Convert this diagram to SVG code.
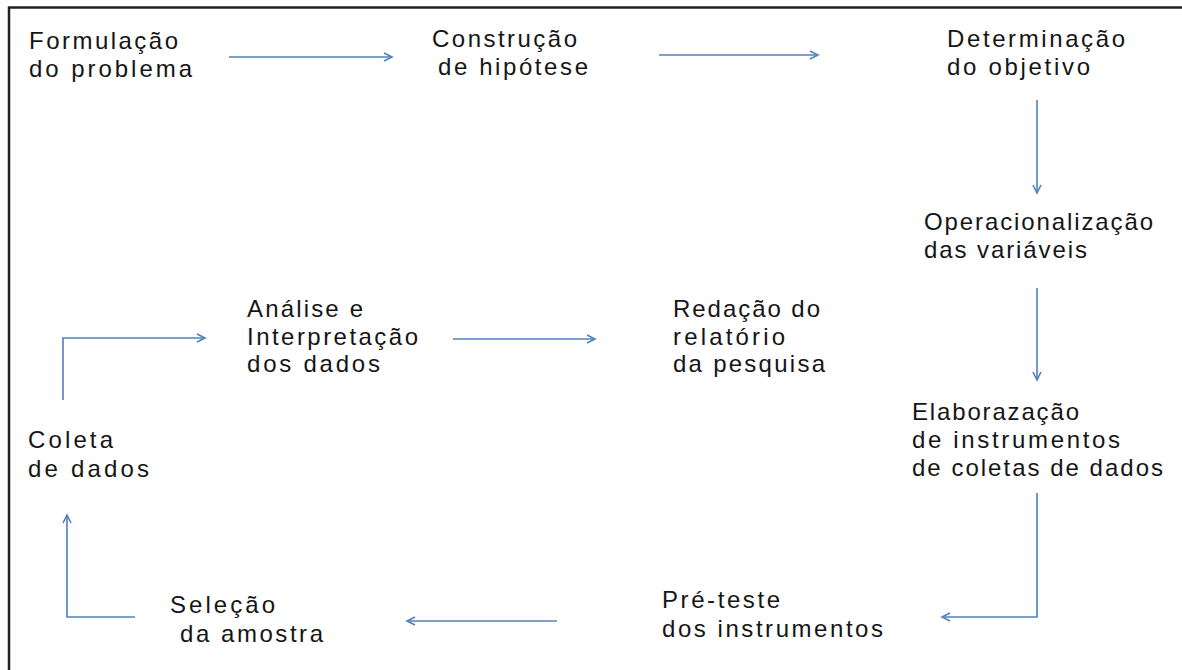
<svg xmlns="http://www.w3.org/2000/svg" width="1182" height="670" viewBox="0 0 1182 670">
<style>
text{font-family:"Liberation Sans",Arial,sans-serif;font-size:24px;fill:#151515}
.c{fill:none;stroke:#4f81bd;stroke-width:1.6}
.b{fill:none;stroke:#222;stroke-width:2.5}
</style>
<defs>
<marker id="ah" markerWidth="12" markerHeight="12" refX="9" refY="5" orient="auto" markerUnits="userSpaceOnUse">
<path d="M1,1 L9,5 L1,9" fill="none" stroke="#4f81bd" stroke-width="1.6"/>
</marker>
</defs>
<rect width="1182" height="670" fill="#fff"/>
<path class="b" d="M9,670 V7.5 H1182"/>
<g id="connectors">
<path class="c" d="M229,57 H392" marker-end="url(#ah)"/>
<path class="c" d="M659,55 H818" marker-end="url(#ah)"/>
<path class="c" d="M1037,100 V193" marker-end="url(#ah)"/>
<path class="c" d="M1037,288 V380" marker-end="url(#ah)"/>
<path class="c" d="M1037,493 V617 H942" marker-end="url(#ah)"/>
<path class="c" d="M557,621 H407" marker-end="url(#ah)"/>
<path class="c" d="M135,617 H67 V515" marker-end="url(#ah)"/>
<path class="c" d="M63,400 V338 H205" marker-end="url(#ah)"/>
<path class="c" d="M453,339 H595" marker-end="url(#ah)"/>
</g>
<g id="formulacao"><text x="29" y="49" textLength="149" lengthAdjust="spacing">Formulação</text><text x="29" y="77" textLength="163" lengthAdjust="spacing">do problema</text></g>
<g id="construcao"><text x="432" y="47" textLength="145" lengthAdjust="spacing">Construção</text><text x="438" y="75" textLength="150" lengthAdjust="spacing">de hipótese</text></g>
<g id="determinacao"><text x="947" y="47" textLength="178" lengthAdjust="spacing">Determinação</text><text x="947" y="75" textLength="143" lengthAdjust="spacing">do objetivo</text></g>
<g id="operacionalizacao"><text x="924" y="230" textLength="229" lengthAdjust="spacing">Operacionalização</text><text x="924" y="258" textLength="163" lengthAdjust="spacing">das variáveis</text></g>
<g id="elaborazacao"><text x="912" y="420" textLength="167" lengthAdjust="spacing">Elaborazação</text><text x="912" y="448" textLength="208" lengthAdjust="spacing">de instrumentos</text><text x="912" y="476" textLength="251" lengthAdjust="spacing">de coletas de dados</text></g>
<g id="preteste"><text x="662" y="608" textLength="118" lengthAdjust="spacing">Pré-teste</text><text x="662" y="637" textLength="221" lengthAdjust="spacing">dos instrumentos</text></g>
<g id="selecao"><text x="170" y="613" textLength="105" lengthAdjust="spacing">Seleção</text><text x="180" y="642" textLength="143" lengthAdjust="spacing">da amostra</text></g>
<g id="coleta"><text x="28" y="448" textLength="85" lengthAdjust="spacing">Coleta</text><text x="28" y="477" textLength="121" lengthAdjust="spacing">de dados</text></g>
<g id="analise"><text x="247" y="317" textLength="116" lengthAdjust="spacing">Análise e</text><text x="247" y="345" textLength="171" lengthAdjust="spacing">Interpretação</text><text x="247" y="372" textLength="133" lengthAdjust="spacing">dos dados</text></g>
<g id="redacao"><text x="673" y="317" textLength="147" lengthAdjust="spacing">Redação do</text><text x="673" y="345" textLength="112" lengthAdjust="spacing">relatório</text><text x="673" y="372" textLength="152" lengthAdjust="spacing">da pesquisa</text></g>
</svg>
